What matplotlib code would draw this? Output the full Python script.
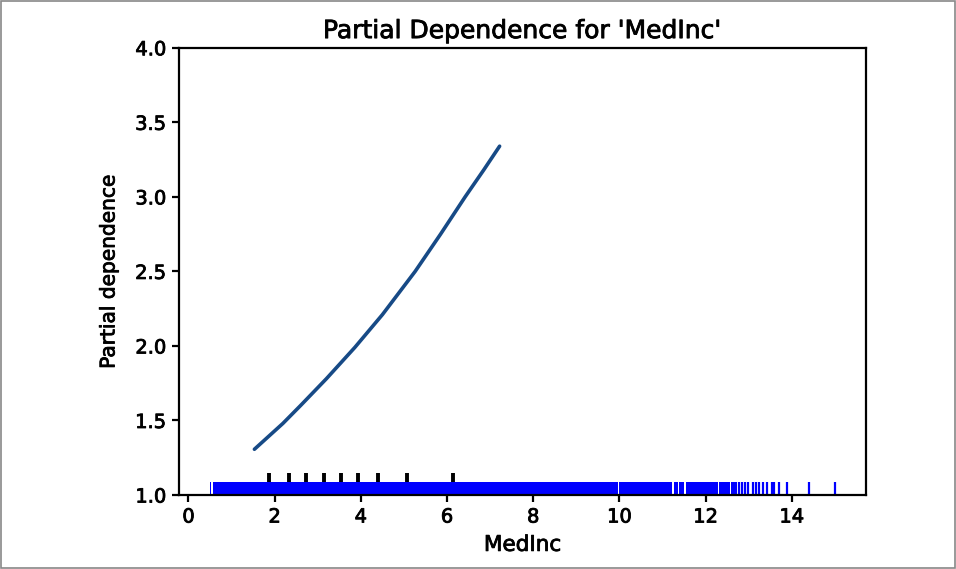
import numpy as np
import matplotlib.pyplot as plt
import matplotlib.patheffects as pe
from matplotlib.patches import Rectangle

# partial dependence curve for MedInc
medinc_grid = [1.53, 2.19, 2.6, 3.2, 3.86, 4.5, 5.26, 5.85, 6.42, 6.85, 7.22]
pd_values = [1.307, 1.48, 1.60, 1.78, 1.99, 2.21, 2.50, 2.75, 3.00, 3.18, 3.34]

# deciles of the feature
deciles = [1.88, 2.33, 2.72, 3.15, 3.53, 3.94, 4.40, 5.08, 6.13]

# rug of the observed values: solid stretches, then single sparse values
rug_spans = [(0.50, 0.53), (0.57, 9.96), (10.00, 11.22), (11.27, 11.35),
             (11.39, 11.49), (11.55, 11.79), (11.81, 12.28), (12.30, 12.56),
             (12.59, 12.72)]
rug_ticks = [12.77, 12.84, 12.91, 12.98, 13.09, 13.16, 13.24, 13.34, 13.43,
             13.53, 13.59, 13.70, 13.88, 14.40, 15.00]

plt.rcParams['font.family'] = ['DejaVu Sans']

fig = plt.figure(figsize=(9.56, 5.69), dpi=100)
ax = fig.add_axes([0.187, 0.130, 0.719, 0.786])

trans = ax.get_xaxis_transform()
rug_h = 0.03
for s, e in rug_spans:
    ax.add_patch(Rectangle((s, 0), e - s, rug_h, transform=trans,
                           facecolor='#0000ff', edgecolor='none', zorder=2))
ax.vlines(rug_ticks, 0, rug_h, transform=trans, color='#0000ff', lw=1.6, zorder=2)
ax.vlines(deciles, 0, 0.05, transform=trans, color='k', lw=2.8, zorder=1)

ax.plot(medinc_grid, pd_values, color='#174a86', lw=2.6, solid_capstyle='round',
        solid_joinstyle='round', zorder=3)

lo = min(s for s, _ in rug_spans)
hi = max(rug_ticks)
pad = 0.05 * (hi - lo)
ax.set_xlim(lo - pad, hi + pad)
ax.set_ylim(1.0, 4.0)
ax.set_xticks(np.arange(0, 15, 2))
ax.set_yticks(np.arange(1.0, 4.01, 0.5))

for sp in ax.spines.values():
    sp.set_linewidth(1.6)
ax.tick_params(width=1.6, length=5, labelsize=14, pad=4)

ax.set_title("Partial Dependence for 'MedInc'", fontsize=18, pad=7)
ax.set_xlabel('MedInc', fontsize=15.5, labelpad=6)
ax.set_ylabel('Partial dependence', fontsize=14.5, labelpad=12)

# slightly heavier strokes on all text
heavy = [pe.withStroke(linewidth=0.6, foreground='black')]
for t in ax.get_xticklabels() + ax.get_yticklabels() + [ax.title, ax.xaxis.label, ax.yaxis.label]:
    t.set_path_effects(heavy)

# thin frame round the whole image
fig.patches.append(Rectangle((0.001, 0.001), 0.998, 0.998, transform=fig.transFigure,
                             fill=False, edgecolor='#888888', lw=1.2))

fig.savefig('out.png', dpi=100)
